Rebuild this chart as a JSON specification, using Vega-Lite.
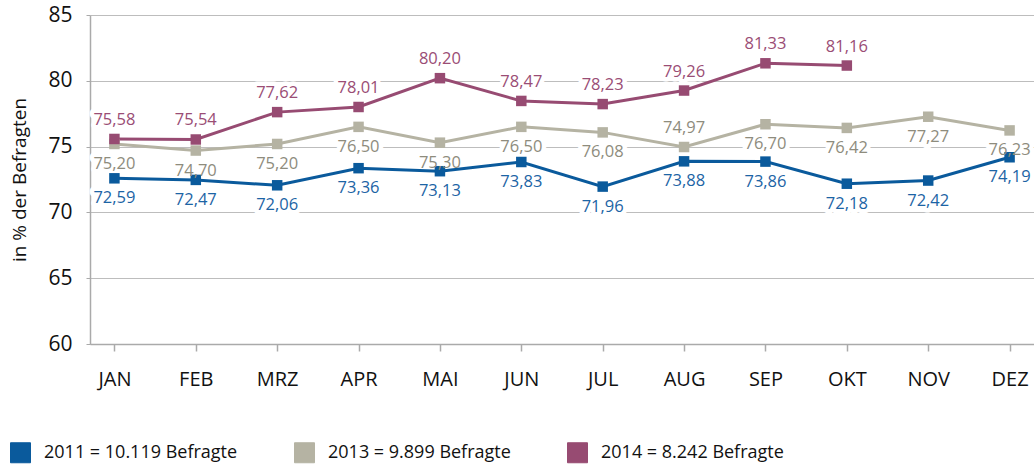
{
  "$schema": "https://vega.github.io/schema/vega-lite/v6.json",
  "width": 944,
  "height": 329,
  "autosize": {"type": "none"},
  "padding": {"left": 90, "top": 15, "right": 0, "bottom": 120},
  "config": {
    "locale": {"number": {"decimal": ",", "thousands": ".", "grouping": [3], "currency": ["", " €"]}},
    "font": "Open Sans",
    "view": {"stroke": null},
    "axis": {"domainColor": "#aaaaaa", "tickColor": "#aaaaaa", "gridColor": "#bdbdbd", "labelColor": "#111111", "titleColor": "#111111"}
  },
  "data": {
    "values": [
      {"serie": "2011", "monat": "JAN", "wert": 72.59},
      {"serie": "2011", "monat": "FEB", "wert": 72.47},
      {"serie": "2011", "monat": "MRZ", "wert": 72.06},
      {"serie": "2011", "monat": "APR", "wert": 73.36},
      {"serie": "2011", "monat": "MAI", "wert": 73.13},
      {"serie": "2011", "monat": "JUN", "wert": 73.83},
      {"serie": "2011", "monat": "JUL", "wert": 71.96},
      {"serie": "2011", "monat": "AUG", "wert": 73.88},
      {"serie": "2011", "monat": "SEP", "wert": 73.86},
      {"serie": "2011", "monat": "OKT", "wert": 72.18},
      {"serie": "2011", "monat": "NOV", "wert": 72.42},
      {"serie": "2011", "monat": "DEZ", "wert": 74.19},
      {"serie": "2013", "monat": "JAN", "wert": 75.20},
      {"serie": "2013", "monat": "FEB", "wert": 74.70},
      {"serie": "2013", "monat": "MRZ", "wert": 75.20},
      {"serie": "2013", "monat": "APR", "wert": 76.50},
      {"serie": "2013", "monat": "MAI", "wert": 75.30},
      {"serie": "2013", "monat": "JUN", "wert": 76.50},
      {"serie": "2013", "monat": "JUL", "wert": 76.08},
      {"serie": "2013", "monat": "AUG", "wert": 74.97},
      {"serie": "2013", "monat": "SEP", "wert": 76.70},
      {"serie": "2013", "monat": "OKT", "wert": 76.42},
      {"serie": "2013", "monat": "NOV", "wert": 77.27},
      {"serie": "2013", "monat": "DEZ", "wert": 76.23},
      {"serie": "2014", "monat": "JAN", "wert": 75.58},
      {"serie": "2014", "monat": "FEB", "wert": 75.54},
      {"serie": "2014", "monat": "MRZ", "wert": 77.62},
      {"serie": "2014", "monat": "APR", "wert": 78.01},
      {"serie": "2014", "monat": "MAI", "wert": 80.20},
      {"serie": "2014", "monat": "JUN", "wert": 78.47},
      {"serie": "2014", "monat": "JUL", "wert": 78.23},
      {"serie": "2014", "monat": "AUG", "wert": 79.26},
      {"serie": "2014", "monat": "SEP", "wert": 81.33},
      {"serie": "2014", "monat": "OKT", "wert": 81.16}
    ]
  },
  "encoding": {
    "x": {
      "field": "monat", "type": "ordinal",
      "sort": ["JAN", "FEB", "MRZ", "APR", "MAI", "JUN", "JUL", "AUG", "SEP", "OKT", "NOV", "DEZ"],
      "scale": {"type": "point", "padding": 0.3},
      "axis": {"title": null, "labelAngle": 0, "labelFontSize": 20, "tickSize": 7, "labelPadding": 18, "domainWidth": 1.5, "tickWidth": 1.5, "grid": false}
    },
    "y": {
      "field": "wert", "type": "quantitative",
      "scale": {"domain": [60, 85], "nice": false, "zero": false},
      "axis": {"title": "in % der Befragten", "titleFontSize": 19, "titleFontWeight": "normal", "titlePadding": 18, "values": [60, 65, 70, 75, 80, 85], "labelFontSize": 21, "tickSize": 4, "labelPadding": 14, "domainWidth": 1.5, "grid": true, "gridWidth": 1}
    }
  },
  "layer": [
    {
      "transform": [{"filter": "datum.serie == '2014' || (datum.serie == '2013' && datum.monat == 'AUG')"}],
      "mark": {"type": "text", "fontSize": 16.5, "dy": -19, "baseline": "middle", "fill": "white", "stroke": "white", "strokeWidth": 9, "strokeJoin": "round"},
      "encoding": {"text": {"field": "wert", "type": "quantitative", "format": ".2f"}}
    },
    {
      "transform": [{"filter": "!(datum.serie == '2014' || (datum.serie == '2013' && datum.monat == 'AUG'))"}],
      "mark": {"type": "text", "fontSize": 16.5, "dy": 20, "baseline": "middle", "fill": "white", "stroke": "white", "strokeWidth": 9, "strokeJoin": "round"},
      "encoding": {"text": {"field": "wert", "type": "quantitative", "format": ".2f"}}
    },
    {
      "mark": {"type": "line", "strokeWidth": 3},
      "encoding": {
        "color": {"field": "serie", "type": "nominal", "scale": {"domain": ["2011", "2013", "2014"], "range": ["#0a5a9c", "#b5b3a3", "#974b72"]}}
      }
    },
    {
      "mark": {"type": "point", "shape": "square", "filled": true, "size": 110, "opacity": 1},
      "encoding": {
        "color": {
          "field": "serie", "type": "nominal",
          "scale": {"domain": ["2011", "2013", "2014"], "range": ["#0a5a9c", "#b5b3a3", "#974b72"]},
          "legend": {
            "title": null, "orient": "none", "legendX": -80, "legendY": 427, "direction": "horizontal",
            "symbolType": "square", "symbolSize": 400, "symbolStrokeColor": "#777777", "symbolStrokeWidth": 1,
            "labelFontSize": 18, "labelColor": "#111111", "labelOffset": 13, "labelLimit": 320, "columnPadding": 54,
            "labelExpr": "datum.label == '2011' ? '2011 = 10.119 Befragte' : datum.label == '2013' ? '2013 = 9.899 Befragte' : '2014 = 8.242 Befragte'"
          }
        }
      }
    },
    {
      "transform": [{"filter": "datum.serie == '2014' || (datum.serie == '2013' && datum.monat == 'AUG')"}],
      "mark": {"type": "text", "fontSize": 16.5, "dy": -19, "baseline": "middle"},
      "encoding": {
        "text": {"field": "wert", "type": "quantitative", "format": ".2f"},
        "color": {"condition": [{"test": "datum.serie == '2011'", "value": "#1c64a5"}, {"test": "datum.serie == '2013'", "value": "#8e8c7d"}], "value": "#9a4d75"}
      }
    },
    {
      "transform": [{"filter": "!(datum.serie == '2014' || (datum.serie == '2013' && datum.monat == 'AUG'))"}],
      "mark": {"type": "text", "fontSize": 16.5, "dy": 20, "baseline": "middle"},
      "encoding": {
        "text": {"field": "wert", "type": "quantitative", "format": ".2f"},
        "color": {"condition": [{"test": "datum.serie == '2011'", "value": "#1c64a5"}, {"test": "datum.serie == '2013'", "value": "#8e8c7d"}], "value": "#9a4d75"}
      }
    }
  ]
}
